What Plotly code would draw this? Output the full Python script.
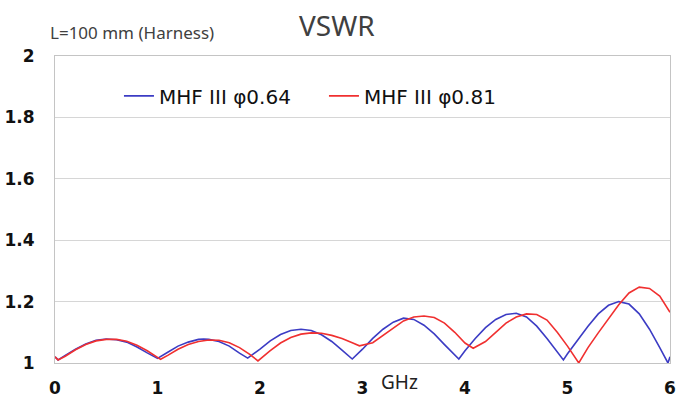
import plotly.graph_objects as go

# Frequency (GHz) and VSWR values
blue_x = [0, 0.03, 0.1, 0.2, 0.3, 0.4, 0.5, 0.6, 0.7, 0.8, 0.9, 1.0,
          1.1, 1.2, 1.3, 1.4, 1.45, 1.5, 1.6, 1.7, 1.8, 1.88,
          2.0, 2.1, 2.2, 2.3, 2.4, 2.5, 2.6, 2.7, 2.8, 2.9,
          3.0, 3.1, 3.2, 3.3, 3.4, 3.5, 3.6, 3.7, 3.8, 3.9, 3.94,
          4.0, 4.1, 4.2, 4.3, 4.4, 4.5, 4.6, 4.7, 4.8, 4.9, 4.96,
          5.0, 5.1, 5.2, 5.3, 5.4, 5.5, 5.6, 5.7, 5.8, 5.9, 5.98, 6.0]
blue_y = [1.02, 1.01, 1.025, 1.045, 1.062, 1.074, 1.078, 1.076, 1.068, 1.052, 1.033, 1.015,
          1.035, 1.055, 1.068, 1.077, 1.078, 1.077, 1.07, 1.055, 1.032, 1.016,
          1.045, 1.072, 1.093, 1.106, 1.11, 1.106, 1.092, 1.07, 1.042, 1.013,
          1.045, 1.08, 1.11, 1.133, 1.146, 1.142, 1.123, 1.095, 1.06, 1.025, 1.013,
          1.04, 1.08, 1.115, 1.142, 1.158, 1.162, 1.15, 1.12, 1.08, 1.035, 1.01,
          1.03, 1.075, 1.12, 1.16, 1.188, 1.2, 1.192, 1.16, 1.11, 1.05, 1.0, 1.02]

red_x = [0, 0.03, 0.1, 0.2, 0.3, 0.4, 0.5, 0.6, 0.7, 0.8, 0.9, 1.0, 1.03,
         1.1, 1.2, 1.3, 1.4, 1.5, 1.6, 1.7, 1.8, 1.9, 1.98,
         2.1, 2.2, 2.3, 2.4, 2.5, 2.6, 2.7, 2.8, 2.9, 2.97,
         3.1, 3.2, 3.3, 3.4, 3.5, 3.6, 3.7, 3.8, 3.9, 4.0, 4.08,
         4.2, 4.3, 4.4, 4.5, 4.6, 4.7, 4.8, 4.9, 5.0, 5.11,
         5.2, 5.3, 5.4, 5.5, 5.6, 5.7, 5.8, 5.9, 6.0]
red_y = [1.02, 1.01, 1.022, 1.043, 1.06, 1.072, 1.077, 1.077, 1.071, 1.058, 1.04, 1.02, 1.012,
         1.025, 1.045, 1.06, 1.07, 1.075, 1.074, 1.066, 1.05, 1.028, 1.007,
         1.04, 1.065, 1.083, 1.094, 1.098, 1.097, 1.09, 1.08, 1.066, 1.056,
         1.066, 1.09, 1.115, 1.137, 1.15, 1.153, 1.148, 1.13, 1.1, 1.065, 1.048,
         1.07, 1.1, 1.13, 1.15, 1.16, 1.158, 1.14, 1.1, 1.055, 1.0,
         1.05, 1.098, 1.145, 1.19, 1.228, 1.247, 1.243, 1.218, 1.165]

series_names = ["MHF III φ0.64", "MHF III φ0.81"]
x_ticks = [0, 1, 2, 3, 4, 5, 6]
y_ticks = [1, 1.2, 1.4, 1.6, 1.8, 2]
y_tick_text = ["1", "1.2", "1.4", "1.6", "1.8", "2"]

fig = go.Figure()
fig.add_trace(go.Scatter(x=blue_x, y=blue_y, mode="lines", name=series_names[0],
                         line=dict(color="#3c3cc4", width=1.6)))
fig.add_trace(go.Scatter(x=red_x, y=red_y, mode="lines", name=series_names[1],
                         line=dict(color="#f03030", width=1.6)))

tick_font = dict(family="DejaVu Sans", size=17, color="#111111", weight="bold")

fig.update_layout(
    width=676, height=403,
    margin=dict(l=55, r=6, t=56, b=40, autoexpand=False),
    paper_bgcolor="white", plot_bgcolor="white",
    showlegend=True,
    legend=dict(orientation="h", x=0.104, y=0.87, xanchor="left", yanchor="middle",
                font=dict(family="DejaVu Sans", size=20, color="#111111"),
                itemwidth=30, entrywidth=160, entrywidthmode="pixels",
                bgcolor="rgba(0,0,0,0)"),
    xaxis=dict(range=[0, 6], tickvals=x_ticks, ticktext=[str(v) for v in x_ticks],
               showgrid=False, zeroline=False, showline=True, mirror=True,
               linecolor="#c4c4c4", linewidth=1, ticks="", tickfont=tick_font,
               ticklabelstandoff=10, automargin=False),
    yaxis=dict(range=[1, 2], tickvals=y_ticks, ticktext=y_tick_text,
               showgrid=True, gridcolor="#d6d6d6", gridwidth=1, zeroline=False,
               showline=True, mirror=True, linecolor="#c4c4c4", linewidth=1,
               ticks="", tickfont=tick_font, ticklabelstandoff=16, automargin=False),
    annotations=[
        dict(text="VSWR", x=337, y=25, xref="paper", yref="paper", showarrow=False,
             font=dict(family="Noto Sans", size=28, color="#404040")),
        dict(text="L=100 mm (Harness)", x=48, y=33, xref="paper", yref="paper",
             showarrow=False, xanchor="left",
             font=dict(family="Noto Sans", size=17, color="#404040")),
        dict(text="GHz", x=399, y=382, xref="paper", yref="paper", showarrow=False,
             font=dict(family="Noto Sans", size=19, color="#222222")),
    ],
)

# convert annotation pixel positions to paper coords
pw, ph = 615, 307
for a in fig.layout.annotations:
    px, py = a.x, a.y
    a.x = (px - 55) / pw
    a.y = (363 - py) / ph
    a.yanchor = "middle"
    if a.xanchor is None:
        a.xanchor = "center"

# remove the default page margin so the figure fills the window exactly
fig.write_html("out.html",
               config={"displayModeBar": False},
               post_script="document.body.style.margin='0';"
                           "document.documentElement.style.overflow='hidden';")
